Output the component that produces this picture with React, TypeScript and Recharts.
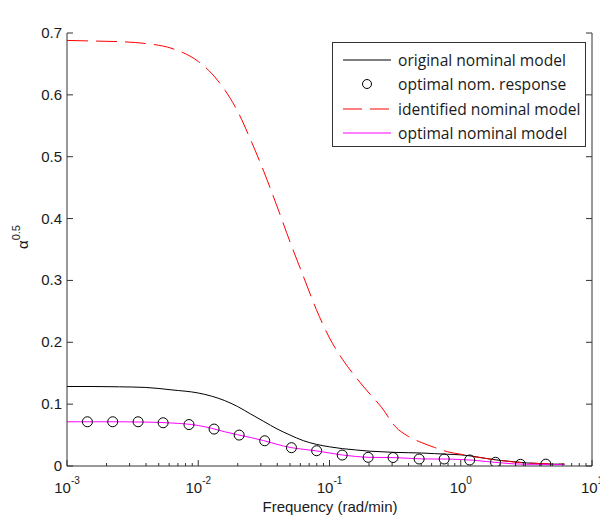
import { LineChart, Line, XAxis, YAxis, Label } from "recharts";

// frequency grid (rad/min) for the three model curves
const freq = [
	0.001, 0.00158, 0.00251, 0.00398, 0.00631, 0.01, 0.0126, 0.0158, 0.02, 0.0251,
	0.0316, 0.0398, 0.0501, 0.0631, 0.0794, 0.1, 0.126, 0.158, 0.2, 0.251, 0.316,
	0.398, 0.501, 0.631, 0.794, 1, 1.26, 1.58, 2, 2.51, 3.16, 3.98, 5.01, 6.17,
];
const originalModel = [
	0.1285, 0.1285, 0.128, 0.127, 0.123, 0.118, 0.113, 0.106, 0.096, 0.084, 0.072,
	0.06, 0.05, 0.041, 0.035, 0.031, 0.028, 0.026, 0.024, 0.023, 0.022, 0.0215,
	0.021, 0.02, 0.019, 0.018, 0.0155, 0.012, 0.009, 0.007, 0.005, 0.004, 0.003,
	0.003,
];
const identifiedModel = [
	0.688, 0.687, 0.686, 0.683, 0.675, 0.654, 0.635, 0.609, 0.573, 0.527, 0.476,
	0.42, 0.362, 0.307, 0.253, 0.207, 0.172, 0.144, 0.118, 0.094, 0.064, 0.048,
	0.038, 0.03, 0.023, 0.019, 0.015, 0.012, 0.009, 0.0065, 0.005, 0.004, 0.0033,
	0.003,
];
const optimalModel = [
	0.0715, 0.0715, 0.0715, 0.071, 0.0695, 0.0655, 0.061, 0.0555, 0.0505, 0.046,
	0.041, 0.035, 0.03, 0.027, 0.0245, 0.021, 0.0177, 0.0155, 0.014, 0.0138,
	0.0135, 0.0125, 0.0115, 0.0113, 0.0112, 0.0105, 0.0092, 0.0072, 0.0052,
	0.0035, 0.0028, 0.0027, 0.0025, 0.0022,
];

// optimal nominal response (circle markers)
const respFreq = [
	0.00143, 0.00223, 0.00348, 0.0054, 0.0085, 0.0132, 0.0205, 0.0321, 0.0513,
	0.0798, 0.125, 0.197, 0.305, 0.482, 0.748, 1.17, 1.84, 2.85, 4.45,
];
const optimalResponse = [
	0.0715, 0.0715, 0.0715, 0.0699, 0.067, 0.0597, 0.05, 0.0408, 0.0296, 0.0247,
	0.0177, 0.014, 0.0137, 0.0113, 0.0113, 0.0097, 0.006, 0.0027, 0.003,
];

const xMajor = [0.001, 0.01, 0.1, 1, 10];
const xMajorExp = ["-3", "-2", "-1", "0", "1"];
const yTicks = [0, 0.1, 0.2, 0.3, 0.4, 0.5, 0.6, 0.7];
const yTickLabels = ["0", "0.1", "0.2", "0.3", "0.4", "0.5", "0.6", "0.7"];

const legendNames = [
	"original nominal model",
	"optimal nom. response",
	"identified nominal model",
	"optimal nominal model",
];

const AXIS = "#333";
const TXT = "#1a1a1a";
const FONT = "'Liberation Sans', Arial, sans-serif";

const minorSteps = [2, 3, 4, 5, 6, 7, 8, 9];
const xMinor = xMajor
	.slice(0, 4)
	.flatMap((d) => minorSteps.map((m) => Number((d * m).toPrecision(3))));
const xTicks = [...xMajor, ...xMinor].sort((a, b) => a - b);

const rows = [
	...freq.map((f, i) => ({
		f,
		orig: originalModel[i],
		ident: identifiedModel[i],
		opt: optimalModel[i],
	})),
	...respFreq.map((f, i) => ({ f, resp: optimalResponse[i] })),
].sort((a, b) => a.f - b.f);

function BottomTick(props: any) {
	const { x, y, payload } = props;
	const i = xMajor.indexOf(payload.value);
	return (
		<g>
			<line x1={x} x2={x} y1={y} y2={y - (i >= 0 ? 6 : 3)} stroke={AXIS} />
			{i >= 0 && (
				<text x={x} y={y + 27} textAnchor="middle" fontSize={15} fill={TXT} fontFamily={FONT}>
					10
					<tspan dy={-9} fontSize={10}>
						{xMajorExp[i]}
					</tspan>
				</text>
			)}
		</g>
	);
}

function TopTick(props: any) {
	const { x, y, payload } = props;
	const major = xMajor.indexOf(payload.value) >= 0;
	return <line x1={x} x2={x} y1={y} y2={y + (major ? 6 : 3)} stroke={AXIS} />;
}

function LeftTick(props: any) {
	const { x, y, payload } = props;
	const i = yTicks.indexOf(payload.value);
	return (
		<g>
			<line x1={x} x2={x + 6} y1={y} y2={y} stroke={AXIS} />
			<text x={x - 5} y={y + 5} textAnchor="end" fontSize={15} fill={TXT} fontFamily={FONT}>
				{yTickLabels[i]}
			</text>
		</g>
	);
}

function RightTick(props: any) {
	const { x, y } = props;
	return <line x1={x} x2={x - 6} y1={y} y2={y} stroke={AXIS} />;
}

function LegendIcon({ index }: { index: number }) {
	if (index === 1) {
		return <circle cx={34} cy={11} r={4.5} fill="none" stroke="#000" />;
	}
	const color = index === 0 ? "#000" : index === 2 ? "#ff0000" : "#ff00ff";
	return (
		<line
			x1={10}
			x2={58}
			y1={11}
			y2={11}
			stroke={color}
			strokeDasharray={index === 2 ? "19 8" : undefined}
		/>
	);
}

export default function App() {
	return (
		<div style={{ position: "absolute", left: 0, top: 0, width: 600, height: 521, background: "#fff" }}>
			<LineChart
				width={600}
				height={521}
				data={rows}
				margin={{ top: 33, right: 0, bottom: 0, left: 0 }}
			>
				<XAxis
					xAxisId="b"
					dataKey="f"
					type="number"
					scale="log"
					domain={[0.001, 10]}
					allowDataOverflow
					ticks={xTicks}
					interval={0}
					tickSize={0}
					tickMargin={0}
					tickLine={false}
					tick={BottomTick}
					height={55}
					axisLine={{ stroke: AXIS }}
				>
					<Label
						content={() => (
							<text x={330} y={512} textAnchor="middle" fontSize={15} fill={TXT} fontFamily={FONT}>
								Frequency (rad/min)
							</text>
						)}
					/>
				</XAxis>
				<XAxis
					xAxisId="t"
					orientation="top"
					dataKey="f"
					type="number"
					scale="log"
					domain={[0.001, 10]}
					allowDataOverflow
					ticks={xTicks}
					interval={0}
					tickSize={0}
					tickMargin={0}
					tickLine={false}
					tick={TopTick}
					height={0}
					axisLine={{ stroke: AXIS }}
				>
					<Label
						content={() => (
							<text x={330} y={19} textAnchor="middle" fontSize={15} fill={TXT} fontFamily={FONT}>
								ν-gap
							</text>
						)}
					/>
				</XAxis>
				<YAxis
					yAxisId="l"
					type="number"
					domain={[0, 0.7]}
					allowDataOverflow
					ticks={yTicks}
					interval={0}
					tickSize={0}
					tickMargin={0}
					tickLine={false}
					tick={LeftTick}
					width={67}
					axisLine={{ stroke: AXIS }}
				>
					<Label
						content={() => (
							<text
								x={28}
								y={237}
								transform="rotate(-90, 28, 237)"
								textAnchor="middle"
								fontSize={15}
								fill={TXT}
								fontFamily={FONT}
							>
								α
								<tspan dy={-8} fontSize={11}>
									0.5
								</tspan>
							</text>
						)}
					/>
				</YAxis>
				<YAxis
					yAxisId="r"
					orientation="right"
					type="number"
					domain={[0, 0.7]}
					allowDataOverflow
					ticks={yTicks}
					interval={0}
					tickSize={0}
					tickMargin={0}
					tickLine={false}
					tick={RightTick}
					width={8}
					axisLine={{ stroke: AXIS }}
				/>
				<Line
					xAxisId="b"
					yAxisId="l"
					dataKey="orig"
					type="monotone"
					stroke="#000"
					strokeWidth={1}
					dot={false}
					activeDot={false}
					connectNulls
					isAnimationActive={false}
				/>
				<Line
					xAxisId="b"
					yAxisId="l"
					dataKey="resp"
					stroke="none"
					dot={{ r: 5, stroke: "#000", strokeWidth: 1, fill: "none" }}
					activeDot={false}
					connectNulls
					isAnimationActive={false}
				/>
				<Line
					xAxisId="b"
					yAxisId="l"
					dataKey="ident"
					type="monotone"
					stroke="#ff0000"
					strokeWidth={1}
					strokeDasharray="21 8"
					dot={false}
					activeDot={false}
					connectNulls
					isAnimationActive={false}
				/>
				<Line
					xAxisId="b"
					yAxisId="l"
					dataKey="opt"
					type="monotone"
					stroke="#ff00ff"
					strokeWidth={1}
					dot={false}
					activeDot={false}
					connectNulls
					isAnimationActive={false}
				/>
			</LineChart>
			<div
				style={{
					position: "absolute",
					left: 332,
					top: 42,
					width: 252,
					height: 103,
					border: `1px solid ${AXIS}`,
					background: "#fff",
					fontFamily: "'Open Sans', sans-serif",
					fontSize: 15.6,
					color: TXT,
				}}
			>
				{legendNames.map((name, i) => (
					<div
						key={name}
						style={{
							position: "absolute",
							left: 0,
							top: 6 + i * 24.4,
							height: 22,
							display: "flex",
							alignItems: "center",
							whiteSpace: "nowrap",
						}}
					>
						<svg width={65} height={22}>
							<LegendIcon index={i} />
						</svg>
						<span>{name}</span>
					</div>
				))}
			</div>
		</div>
	);
}
